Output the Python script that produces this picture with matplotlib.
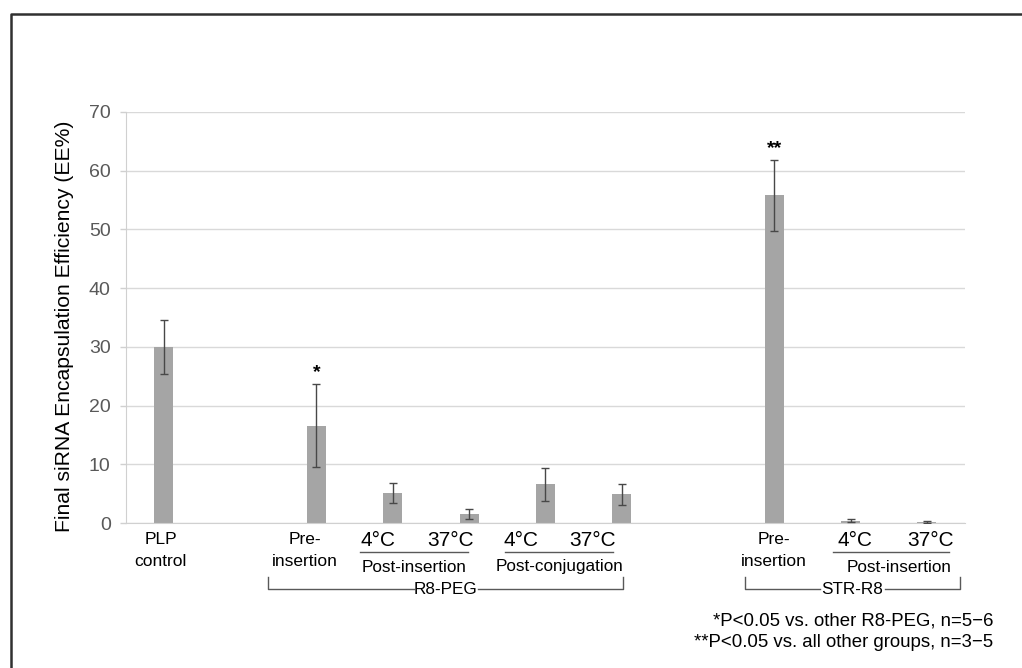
import numpy as np
import matplotlib
matplotlib.use("Agg")
import matplotlib.pyplot as plt
from matplotlib.lines import Line2D
from matplotlib.transforms import blended_transform_factory

plt.rcParams['font.family'] = ['Liberation Sans', 'DejaVu Sans']

# 11 slots along x; empty slots separate the groups
means = [30.0, np.nan, 16.6, 5.1, 1.5, 6.6, 4.9, np.nan, 55.8, 0.4, 0.2]
errs = [4.6, np.nan, 7.1, 1.65, 0.9, 2.85, 1.75, np.nan, 6.1, 0.3, 0.12]
stars = {2: '*', 8: '**'}
yticks = [0, 10, 20, 30, 40, 50, 60, 70]

# two-line labels under single bars (x position in slot units)
main_labels = [(-0.04, 'PLP', 'control'), (1.85, 'Pre-', 'insertion'),
               (7.99, 'Pre-', 'insertion')]
# temperature pairs: (x of 4°C, x of 37°C, underline from, to, caption x, caption)
temp_pairs = [(2.81, 3.76, 2.57, 3.99, 3.285, 'Post-insertion'),
              (4.68, 5.62, 4.47, 5.89, 5.19, 'Post-conjugation'),
              (9.06, 10.05, 8.77, 10.29, 9.63, 'Post-insertion')]
# group brackets: (left, right, name)
groups = [(1.365, 6.02, 'R8-PEG'), (7.62, 10.43, 'STR-R8')]
notes = ['*P<0.05 vs. other R8-PEG, n=5\u22126',
         '**P<0.05 vs. all other groups, n=3\u22125']

W, H = 1022, 668
fig = plt.figure(figsize=(W / 100, H / 100), dpi=100)
ax = fig.add_axes([125.7 / W, (H - 523) / H, 839.3 / W, 411 / H])

x = np.arange(len(means))
ax.bar(x, means, width=0.25, color='#a5a5a5', zorder=2)
ax.errorbar(x, means, yerr=errs, fmt='none', ecolor='#484848', elinewidth=1,
            capsize=2.6, capthick=1, zorder=3)
for i, s in stars.items():
    ax.annotate(s, (i, means[i] + errs[i]), xytext=(0, 2), textcoords='offset points',
                ha='center', va='bottom', fontsize=14, fontweight='bold', color='black')

ax.set_xlim(-0.5, 10.5)
ax.set_ylim(0, 70)
ax.set_yticks(yticks)
ax.set_xticks([])
ax.yaxis.grid(True, color='#d9d9d9', linewidth=1)
ax.set_axisbelow(True)
for side in ['top', 'right']:
    ax.spines[side].set_visible(False)
ax.spines['left'].set_color('#d0d0d0')
ax.spines['bottom'].set_color('#d0d0d0')
ax.tick_params(axis='y', colors='#d0d0d0', labelcolor='#595959', labelsize=14,
               length=4.3, width=1, pad=6.5)
ax.set_ylabel('Final siRNA Encapsulation Efficiency (EE%)', fontsize=15.2,
              color='black')
ax.yaxis.set_label_coords(-0.062, 0.478)

# x labels under the axis: x in data units, y in figure pixels
tr = blended_transform_factory(ax.transData, fig.transFigure)
def fy(py):
    return 1 - py / H

def lab(xv, py, s, size=12.5):
    fig.text(xv, fy(py), s, transform=tr, ha='center', va='center',
             fontsize=size, color='black')

for xv, l1, l2 in main_labels:
    lab(xv, 540, l1)
    lab(xv, 561, l2)

for x4, x37, u0, u1, xc, name in temp_pairs:
    lab(x4, 541, '4°C', 15)
    lab(x37, 541, '37°C', 15)
    fig.add_artist(Line2D([u0, u1], [fy(552), fy(552)], transform=tr,
                          color='#595959', linewidth=1))
    lab(xc, 567, name, 12.3)

for a, b, name in groups:
    mid = (a + b) / 2
    tw = 0.42
    yb, yt = fy(589), fy(577)
    kw = dict(transform=tr, color='#595959', linewidth=1)
    fig.add_artist(Line2D([a, a, mid - tw], [yt, yb, yb], **kw))
    fig.add_artist(Line2D([mid + tw, b, b], [yb, yb, yt], **kw))
    lab(mid, 590, name, 12.3)

for py, s in zip([626, 647], notes):
    fig.text(993 / W, fy(py), s, ha='right', va='baseline', fontsize=13.4)

# outer frame, open on the right and bottom
fig.add_artist(Line2D([10.5 / W, 10.5 / W, 1.0], [0.0, fy(13.5), fy(13.5)],
                      transform=fig.transFigure, color='#303030', linewidth=1.8))

fig.savefig('out.png', dpi=100, facecolor='white')
